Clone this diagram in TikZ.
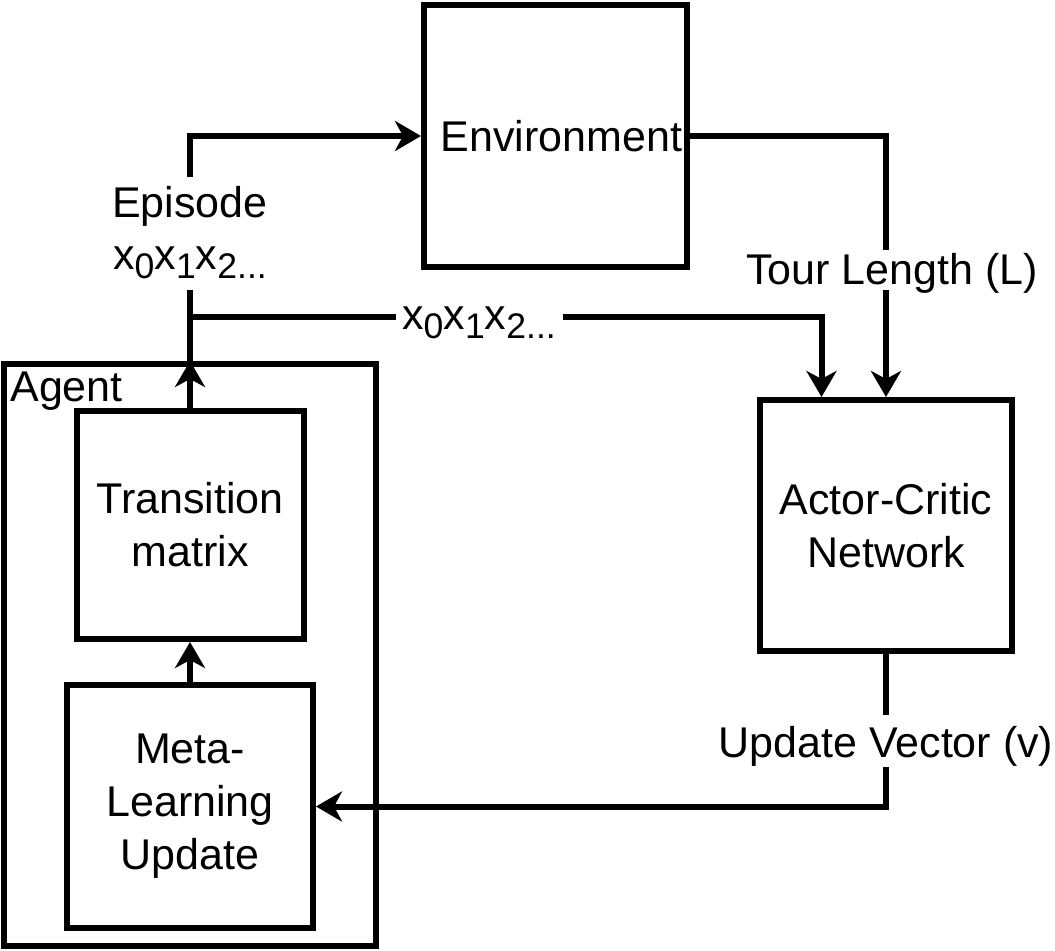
\documentclass[tikz,border=0pt]{standalone}
\usepackage{fontspec}
\setmainfont{Liberation Sans}
\usetikzlibrary{arrows.meta,calc}
\newcommand{\sbx}[1]{\raisebox{-4.5pt}{\fontsize{17.8}{17.8}\selectfont #1}}
\begin{document}
\begin{tikzpicture}[x=0.5pt,y=-0.5pt,
 box/.style={draw,line width=3pt,align=center,inner sep=0pt},
 ln/.style={line width=3pt},
 arr/.style={line width=3pt,-{Stealth[length=13pt,width=15pt,inset=4pt]}},
 lbl/.style={inner sep=0pt,anchor=base},
 font=\fontsize{21.5}{26.5}\selectfont]
\useasboundingbox (0,0) rectangle (1055,951);
\node[box,minimum width=131.5pt,minimum height=131pt] (env) at (555.5,136) {\hspace*{6pt}Environment};
\node[box,minimum width=186pt,minimum height=291pt] (agent) at (190,655) {};
\node[box,minimum width=113.5pt,minimum height=114pt] (trans) at (190,525) {Transition\\matrix};
\node[box,minimum width=123pt,minimum height=121.5pt] (meta) at (190,806.5) {Meta-\\Learning\\Update};
\node[box,minimum width=126pt,minimum height=125.5pt] (ac) at (886,525.5) {Actor-Critic\\Network};
\node[lbl,anchor=base west] (agt) at (10,402) {Agent};

\node[lbl] (ep) at (190,218) {Episode};
\node[lbl] (epx) at (190,270) {x\sbx{0}x\sbx{1}x\sbx{2...}};
\node[lbl] (xs) at (479,330) {x\sbx{0}x\sbx{1}x\sbx{2...}};
\node[lbl] (tl) at (892,285) {Tour Length (L)};
\node[lbl] (uv) at (886,757) {Update Vector (v)};

\coordinate (epB) at (190,290);
\coordinate (epT) at (190,177);
\coordinate (jn) at (190,317);
\coordinate (xL) at (396,317);
\coordinate (xR) at (563,317);
\coordinate (tlT) at (886,250);
\coordinate (tlB) at (886,290);
\coordinate (uvT) at (886,715);
\coordinate (uvB) at (886,767);

\draw[arr] (meta.north) -- (trans.south);
\draw[arr] (trans.north) -- (trans.north |- agent.north);
\draw[ln] (trans.north |- agent.north) -- (epB);
\draw[arr] (epT) |- (env.west);
\draw[ln] (jn) -- (xL);
\draw[arr] (xR) -| ($(ac.north west)!0.25!(ac.north east)$);
\draw[ln] (env.east) -| (tlT);
\draw[arr] (tlB) -- (ac.north);
\draw[ln] (ac.south) -- (uvT);
\draw[arr] (uvB) |- (meta.east);
\end{tikzpicture}
\end{document}
